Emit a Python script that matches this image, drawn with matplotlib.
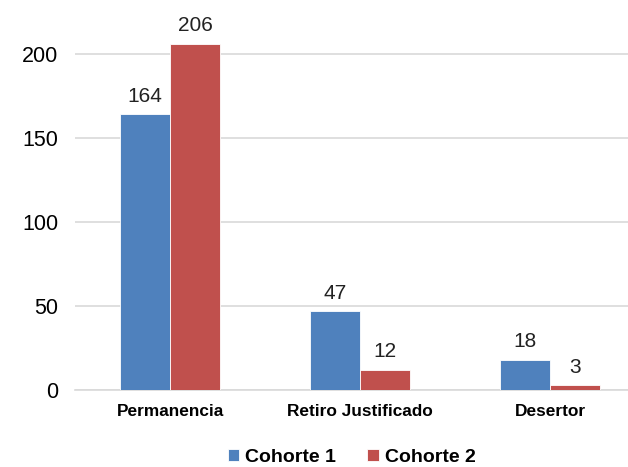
import numpy as np
import matplotlib.pyplot as plt

plt.rcParams['font.family'] = ['Liberation Sans', 'DejaVu Sans']

categories = ["Permanencia", "Retiro Justificado", "Desertor"]
cohorte1 = [164, 47, 18]
cohorte2 = [206, 12, 3]
series = ["Cohorte 1", "Cohorte 2"]
yticks = [0, 50, 100, 150, 200]

fig = plt.figure(figsize=(6.28, 4.67), dpi=100)
ax = fig.add_axes([0.1194, 0.1649, 0.8806, 0.8351])

x = np.arange(len(categories))
w = 0.263
b1 = ax.bar(x - w / 2, cohorte1, w, color="#4F81BD", edgecolor="white", linewidth=0.6, label=series[0], zorder=3)
b2 = ax.bar(x + w / 2, cohorte2, w, color="#C0504D", edgecolor="white", linewidth=0.6, label=series[1], zorder=3)

for bars in (b1, b2):
    for r in bars:
        ax.annotate(f"{int(r.get_height())}", (r.get_x() + r.get_width() / 2, r.get_height()),
                    xytext=(0, 6), textcoords="offset points", ha="center", va="bottom",
                    fontsize=15, color="#222222")

ax.set_xlim(-0.5, 2.41)
ax.set_ylim(0, 232)
ax.set_yticks(yticks)
ax.set_xticks(x)
ax.set_xticklabels(categories, fontweight="bold", fontsize=12.4)
ax.tick_params(axis="y", labelsize=15.5, length=0, pad=12)
ax.tick_params(axis="x", length=0, pad=10)
ax.grid(axis="y", color="#d9d9d9", linewidth=1.2, zorder=0)
for s in ["top", "right", "left"]:
    ax.spines[s].set_visible(False)
ax.spines["bottom"].set_color("#d9d9d9")
ax.spines["bottom"].set_linewidth(1.2)

fig.legend(handles=[b1, b2], labels=series, loc="lower center", bbox_to_anchor=(0.56, -0.035),
           ncol=2, frameon=False, prop={"weight": "bold", "size": 14},
           handlelength=0.6, handleheight=0.6, handletextpad=0.3, columnspacing=1.6)

fig.savefig("out.png", dpi=100)
